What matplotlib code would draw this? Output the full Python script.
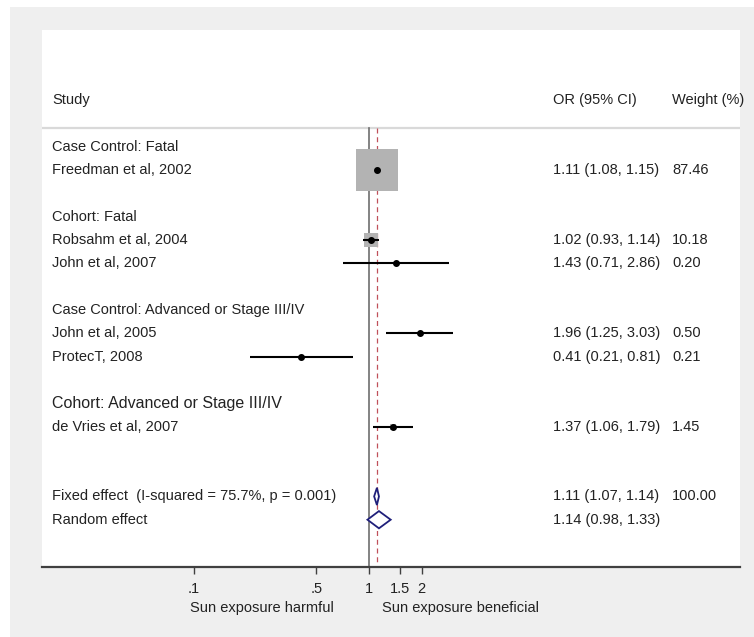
import matplotlib
matplotlib.use("Agg")
import matplotlib.pyplot as plt
from matplotlib.patches import Rectangle, Polygon
from matplotlib.transforms import blended_transform_factory
import numpy as np

# ---------------- data ----------------
group_names = ["Case Control: Fatal", "Cohort: Fatal",
               "Case Control: Advanced or Stage III/IV",
               "Cohort: Advanced or Stage III/IV"]
group_sizes = [1, 2, 2, 1]
studies = ["Freedman et al, 2002", "Robsahm et al, 2004", "John et al, 2007",
           "John et al, 2005", "ProtecT, 2008", "de Vries et al, 2007"]
or_est = [1.11, 1.02, 1.43, 1.96, 0.41, 1.37]
ci_lo = [1.08, 0.93, 0.71, 1.25, 0.21, 1.06]
ci_hi = [1.15, 1.14, 2.86, 3.03, 0.81, 1.79]
weights = [87.46, 10.18, 0.20, 0.50, 0.21, 1.45]

fixed_label = "Fixed effect  (I-squared = 75.7%, p = 0.001)"
fixed_est, fixed_lo, fixed_hi, fixed_w = 1.11, 1.07, 1.14, 100.00
random_label = "Random effect"
random_est, random_lo, random_hi = 1.14, 0.98, 1.33

tick_vals = [0.1, 0.5, 1, 1.5, 2]
tick_labels = [".1", ".5", "1", "1.5", "2"]
left_note = "Sun exposure harmful"
right_note = "Sun exposure beneficial"
col_headers = ["Study", "OR (95% CI)", "Weight (%)"]

# ---------------- figure ----------------
W, H = 754, 637
fig = plt.figure(figsize=(W / 100, H / 100), dpi=100)
fig.patch.set_facecolor("white")
bg = fig.add_axes([0, 0, 1, 1], zorder=-10)
bg.set_axis_off()
bg.set_xlim(0, 1)
bg.set_ylim(0, 1)
bg.add_patch(Rectangle((10 / W, 0), (W - 10) / W, (H - 7) / H,
                       facecolor="#efefef", edgecolor="none"))

ax = fig.add_axes([42 / W, 70 / H, 698 / W, 537 / H])
ax.set_facecolor("white")
ax.set_xscale("log")
px_per_dec = 175.0
x1px = 369.0
ax.set_xlim(10 ** ((42 - x1px) / px_per_dec), 10 ** ((740 - x1px) / px_per_dec))
ax.set_ylim(18.03, -5.02)

FONT = "Liberation Sans"
FS = 10.5
TC = "#222222"

for s in ["top", "left", "right"]:
    ax.spines[s].set_visible(False)
ax.spines["bottom"].set_color("#404040")
ax.spines["bottom"].set_linewidth(1.6)
ax.set_yticks([])
ax.xaxis.set_minor_locator(matplotlib.ticker.NullLocator())
ax.set_xticks(tick_vals)
ax.set_xticklabels(tick_labels)
ax.tick_params(axis="x", length=5, width=1.0, color="#404040", pad=5.5,
               labelsize=FS, labelcolor=TC)
for lbl in ax.get_xticklabels():
    lbl.set_fontfamily(FONT)

tr = blended_transform_factory(ax.transAxes, ax.transData)
x_lab, x_or, x_w = 10 / 698, 511 / 698, 630 / 698

# header
hdr_row = -2
for txt, xx in zip(col_headers, [x_lab, x_or, x_w]):
    ax.text(xx, hdr_row, txt, transform=tr, va="center", ha="left",
            fontsize=FS, family=FONT, color=TC)
sep_row = -0.8
ax.plot([0, 1], [sep_row, sep_row], transform=tr, color="#d9d9d9", lw=1.6,
        solid_capstyle="butt", zorder=1, clip_on=False)

# rows
row = 0
study_rows = []
for gi, (gname, gsize) in enumerate(zip(group_names, group_sizes)):
    fs = FS * 1.1 if gi == 3 else FS
    ax.text(x_lab, row, gname, transform=tr, va="center", ha="left",
            fontsize=fs, family=FONT, color=TC)
    row += 1
    for _ in range(gsize):
        study_rows.append(row)
        row += 1
    row += 1
row += 1
fixed_row = row
random_row = row + 1

# vertical reference lines
ax.plot([1, 1], [sep_row, 18.03], color="#6e6e6e", lw=1.2, zorder=2)
ax.plot([fixed_est, fixed_est], [sep_row, 18.03], color="#c0505a", lw=0.9,
        dashes=(4, 3), zorder=2)

for i, (name, e, lo, hi, w) in enumerate(zip(studies, or_est, ci_lo, ci_hi, weights)):
    r = study_rows[i]
    ax.text(x_lab, r, name, transform=tr, va="center", ha="left",
            fontsize=FS, family=FONT, color=TC)
    ax.text(x_or, r, f"{e:.2f} ({lo:.2f}, {hi:.2f})", transform=tr, va="center",
            ha="left", fontsize=FS, family=FONT, color=TC)
    ax.text(x_w, r, f"{w:.2f}", transform=tr, va="center", ha="left",
            fontsize=FS, family=FONT, color=TC)
    side = 3.23 * np.sqrt(w)
    ax.plot([e], [r], marker="s", markersize=side, color="#b3b3b3",
            markeredgewidth=0, zorder=3)
    ax.plot([lo, hi], [r, r], color="black", lw=1.5, zorder=4,
            solid_capstyle="butt")
    ax.plot([e], [r], marker="o", markersize=4, color="black", zorder=5)

# pooled
hh = 0.37
for lab, e, lo, hi, r in [(fixed_label, fixed_est, fixed_lo, fixed_hi, fixed_row),
                          (random_label, random_est, random_lo, random_hi, random_row)]:
    ax.text(x_lab, r, lab, transform=tr, va="center", ha="left",
            fontsize=FS, family=FONT, color=TC)
    ax.text(x_or, r, f"{e:.2f} ({lo:.2f}, {hi:.2f})", transform=tr, va="center",
            ha="left", fontsize=FS, family=FONT, color=TC)
    poly = Polygon([(lo, r), (e, r - hh), (hi, r), (e, r + hh)], closed=True,
                   facecolor="white", edgecolor="#1f1f7a", lw=1.3, zorder=6)
    ax.add_patch(poly)
ax.text(x_w, fixed_row, f"{fixed_w:.2f}", transform=tr, va="center", ha="left",
        fontsize=FS, family=FONT, color=TC)

# notes under axis
for note, xv in [(left_note, 10 ** ((262 - x1px) / px_per_dec)),
                 (right_note, 10 ** ((460 - x1px) / px_per_dec))]:
    ax.annotate(note, xy=(xv, 0), xycoords=("data", "axes fraction"),
                xytext=(0, -41 * 0.72), textcoords="offset points",
                ha="center", va="center", fontsize=FS, family=FONT, color=TC,
                annotation_clip=False)

fig.savefig("out.png", dpi=100, facecolor="white")
